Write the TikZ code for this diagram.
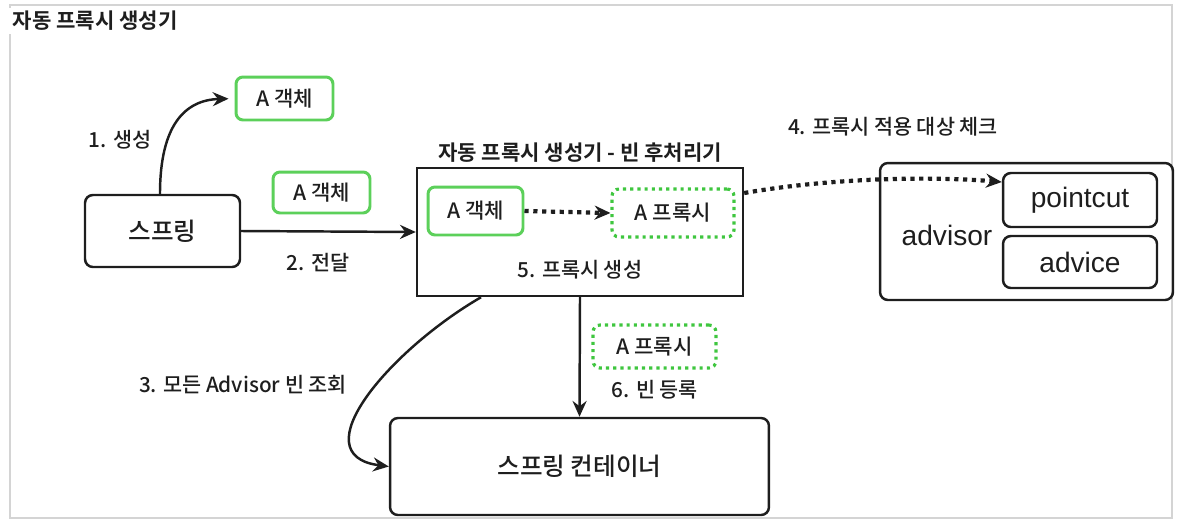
\documentclass[tikz,border=0pt]{standalone}
\usepackage{fontspec}
\setmainfont{Noto Sans CJK KR Medium}[BoldFont={Noto Sans CJK KR Bold}]
\newfontfamily\latfont{Liberation Sans}
\usepackage{tikz}
\usetikzlibrary{arrows.meta}
\definecolor{G0}{HTML}{5CD05A}
\definecolor{G1}{HTML}{3FC63F}
\definecolor{K0}{HTML}{1E1E1E}
\definecolor{F0}{HTML}{D4D4D4}

\tikzset{
  blackbox/.style={draw=K0, line width=1.4pt, rounded corners=4.5pt, text=K0, font=\fontsize{14}{16}\selectfont},
  greenbox/.style={draw=G0, line width=1.7pt, rounded corners=4pt, text=K0, font=\fontsize{12}{14}\selectfont},
  greendots/.style={draw=G1, line width=1.8pt, dash pattern=on 1.8pt off 2.3pt, rounded corners=4pt, text=K0, font=\fontsize{12}{14}\selectfont},
  steplabel/.style={text=K0, font=\fontsize{11.8}{14}\selectfont},
  flow/.style={draw=K0, line width=1.4pt, -{Stealth[length=9pt,width=8pt,inset=3pt]}},
  dotflow/.style={draw=K0, line width=2.4pt, dash pattern=on 2.4pt off 2.6pt, -{Stealth[length=9pt,width=8pt,inset=3pt]}},
}

\begin{document}
\begin{tikzpicture}[x=0.02cm, y=-0.02cm]%
\useasboundingbox (0,0) rectangle (1180,525);%
% frame and title
\draw[F0, line width=0.6pt] (10,5) rectangle (1172,518);%
\node[fill=white, anchor=west, inner sep=2pt, text=K0, font=\bfseries\fontsize{12}{14}\selectfont] (title) at (9,21) {자동 프록시 생성기};%
% spring and objects
\node[blackbox, minimum width=3.1cm, minimum height=1.44cm] (spring) at (162.5,231) {스프링};%
\node[greenbox, minimum width=1.94cm, minimum height=0.86cm] (aobjcreate) at (284.5,98.5) {A 객체};%
\node[greenbox, minimum width=1.94cm, minimum height=0.82cm] (aobjpass) at (321.5,192.5) {A 객체};%
\node[steplabel] (lcreate) at (120,140) {1. 생성};%
\node[steplabel] (lpass) at (318,263) {2. 전달};%
% bean post processor
\node[draw=K0, line width=1.4pt, minimum width=6.52cm, minimum height=2.56cm] (bpp) at (580,232) {};%
\node[text=K0, font=\bfseries\fontsize{12}{14}\selectfont] (bpptitle) at (580,153) {자동 프록시 생성기 - 빈 후처리기};%
\node[greenbox, minimum width=1.9cm, minimum height=0.96cm] (aobjin) at (475.5,211) {A 객체};%
\node[greendots, minimum width=2.44cm, minimum height=0.96cm] (aproxyin) at (673,213) {A 프록시};%
\node[steplabel] (lmake) at (580,270) {5. 프록시 생성};%
% advisor
\node[blackbox, minimum width=5.86cm, minimum height=2.74cm] (advisor) at (1026.5,231.5) {};%
\node[text=K0, font=\latfont\fontsize{16}{18}\selectfont] (advisorname) at (947,235) {advisor};%
\node[blackbox, font=\latfont\fontsize{16}{18}\selectfont, minimum width=3.08cm, minimum height=1.08cm] (pointcut) at (1080,200) {pointcut};%
\node[blackbox, font=\latfont\fontsize{16}{18}\selectfont, minimum width=3.08cm, minimum height=1.04cm] (advice) at (1080,262) {advice};%
\node[steplabel] (lcheck) at (893,127) {4. 프록시 적용 대상 체크};%
% container
\node[blackbox, minimum width=7.58cm, minimum height=1.94cm] (container) at (579.5,466.5) {스프링 컨테이너};%
\node[greendots, minimum width=2.46cm, minimum height=0.86cm] (aproxyreg) at (654.5,346.5) {A 프록시};%
\node[steplabel] (lreg) at (655,390) {6. 빈 등록};%
\node[steplabel] (llookup) at (243,385) {3. 모든 Advisor 빈 조회};%
% connectors
\draw[flow, shorten >=0.12cm] ([xshift=-0.05cm]spring.north) .. controls (160,125) and (185,100) .. (aobjcreate.west);%
\draw[flow] (spring.east) -- (bpp.west);%
\draw[dotflow] (aobjin.east) -- (aproxyin.west);%
\draw[dotflow] ([yshift=0.78cm]bpp.east) .. controls (830,178) and (930,176) .. ([yshift=0.36cm]pointcut.west);%
\draw[flow] (bpp.south) -- (container.north);%
\draw[flow] ([xshift=-1.98cm]bpp.south) .. controls (390,350) and (300,455) .. (container.west);%
\end{tikzpicture}
\end{document}
